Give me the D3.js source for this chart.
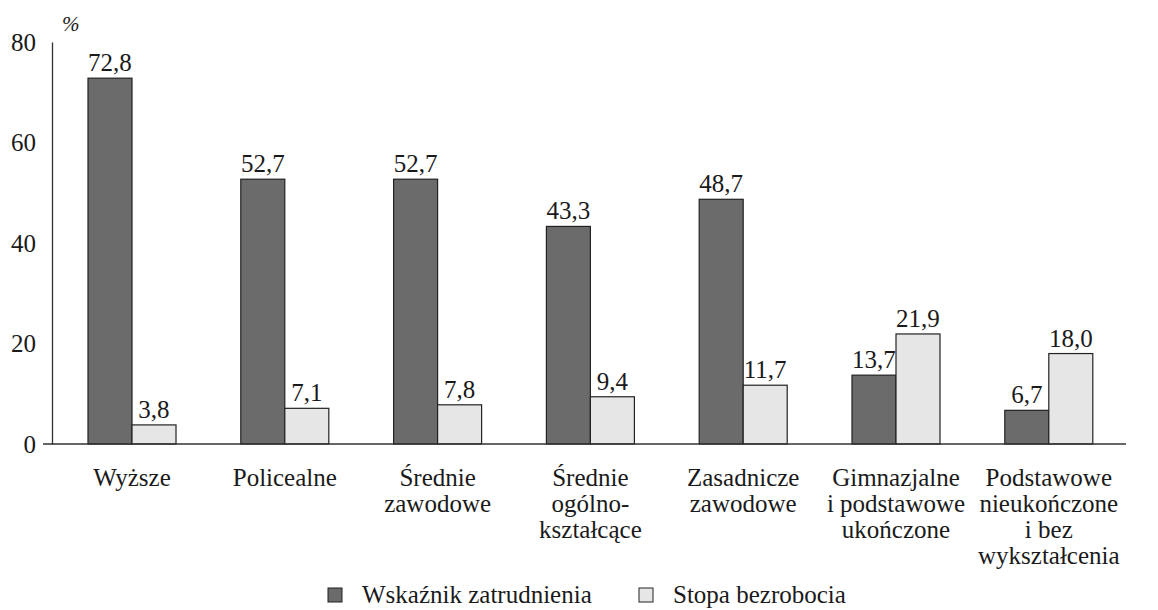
<!DOCTYPE html>
<html>
<head>
<meta charset="utf-8">
<script src="https://cdn.jsdelivr.net/npm/d3@7"></script>
<style>
  body { margin: 0; background: #fff; }
</style>
</head>
<body>
<svg id="chart" width="1158" height="610"></svg>
<script>
// categories (lines of each label)
var categories = [
  ['Wyższe'],
  ['Policealne'],
  ['Średnie', 'zawodowe'],
  ['Średnie', 'ogólno-', 'kształcące'],
  ['Zasadnicze', 'zawodowe'],
  ['Gimnazjalne', 'i podstawowe', 'ukończone'],
  ['Podstawowe', 'nieukończone', 'i bez', 'wykształcenia']
];
var seriesNames = ['Wskaźnik zatrudnienia', 'Stopa bezrobocia'];
var employment = [72.8, 52.7, 52.7, 43.3, 48.7, 13.7, 6.7];
var unemployment = [3.8, 7.1, 7.8, 9.4, 11.7, 21.9, 18.0];
var yTicks = [0, 20, 40, 60, 80];
var colors = ['#6b6b6b', '#e6e6e6'];

var INK = '#1a1a1a';

var svg = d3.select('#chart');
var fmt = function(v) { return d3.format('.1f')(v).replace('.', ','); };

// serif text helper
function serif(sel, size) {
  return sel
    .attr('font-family', 'Liberation Serif')
    .attr('font-size', size)
    .style('font-family', "'Liberation Serif'")
    .attr('fill', INK);
}

var y = d3.scaleLinear().domain([0, 80]).range([444, 42]);
var x = d3.scaleBand()
  .domain(d3.range(categories.length))
  .range([55.6, 1125.2])
  .paddingInner(0.424)
  .paddingOuter(0.212);
var xs = d3.scaleBand().domain([0, 1]).range([0, x.bandwidth()]);

// y axis, no tick marks
var yAxis = d3.axisLeft(y)
  .tickValues(yTicks)
  .tickSizeInner(0)
  .tickSizeOuter(0)
  .tickPadding(16);

var gy = svg.append('g')
  .attr('transform', 'translate(52,0)')
  .call(yAxis)
  .attr('font-family', 'Liberation Serif')
  .attr('font-size', 25);
gy.select('.domain').attr('stroke', '#333').attr('stroke-width', 1.3);
serif(gy.selectAll('text'), 25);

serif(svg.append('text'), 21)
  .attr('x', 62)
  .attr('y', 31)
  .attr('font-style', 'italic')
  .text('%');

// bars
var groups = svg.selectAll('g.group')
  .data(categories)
  .enter().append('g')
  .attr('class', 'group')
  .attr('transform', function(d, i) { return 'translate(' + x(i) + ',0)'; });

groups.each(function(d, i) {
  var g = d3.select(this);
  var vals = [employment[i], unemployment[i]];
  vals.forEach(function(v, s) {
    g.append('rect')
      .attr('x', xs(s))
      .attr('y', y(v))
      .attr('width', xs.bandwidth())
      .attr('height', y(0) - y(v))
      .attr('fill', colors[s])
      .attr('stroke', '#222')
      .attr('stroke-width', 1.2);
    serif(g.append('text'), 25)
      .attr('x', xs(s) + xs.bandwidth() / 2)
      .attr('y', y(v) - 7)
      .attr('text-anchor', 'middle')
      .text(fmt(v));
  });

  // category label
  var t = serif(g.append('text'), 25)
    .attr('text-anchor', 'middle');
  d.forEach(function(line, k) {
    t.append('tspan')
      .attr('x', x.bandwidth() / 2)
      .attr('y', 486 + k * 26)
      .text(line);
  });
});

// baseline
svg.append('line')
  .attr('x1', 43).attr('x2', 1126)
  .attr('y1', y(0)).attr('y2', y(0))
  .attr('stroke', '#333')
  .attr('stroke-width', 1.3);

// legend
var legendX = [328, 639];
var legend = svg.selectAll('g.legend')
  .data(seriesNames)
  .enter().append('g')
  .attr('class', 'legend')
  .attr('transform', function(d, i) { return 'translate(' + legendX[i] + ',588)'; });
legend.append('rect')
  .attr('width', 14).attr('height', 14)
  .attr('fill', function(d, i) { return colors[i]; })
  .attr('stroke', '#222')
  .attr('stroke-width', 1);
serif(legend.append('text'), 25)
  .attr('x', 34)
  .attr('y', 15)
  .text(function(d) { return d; });
</script>
</body>
</html>
